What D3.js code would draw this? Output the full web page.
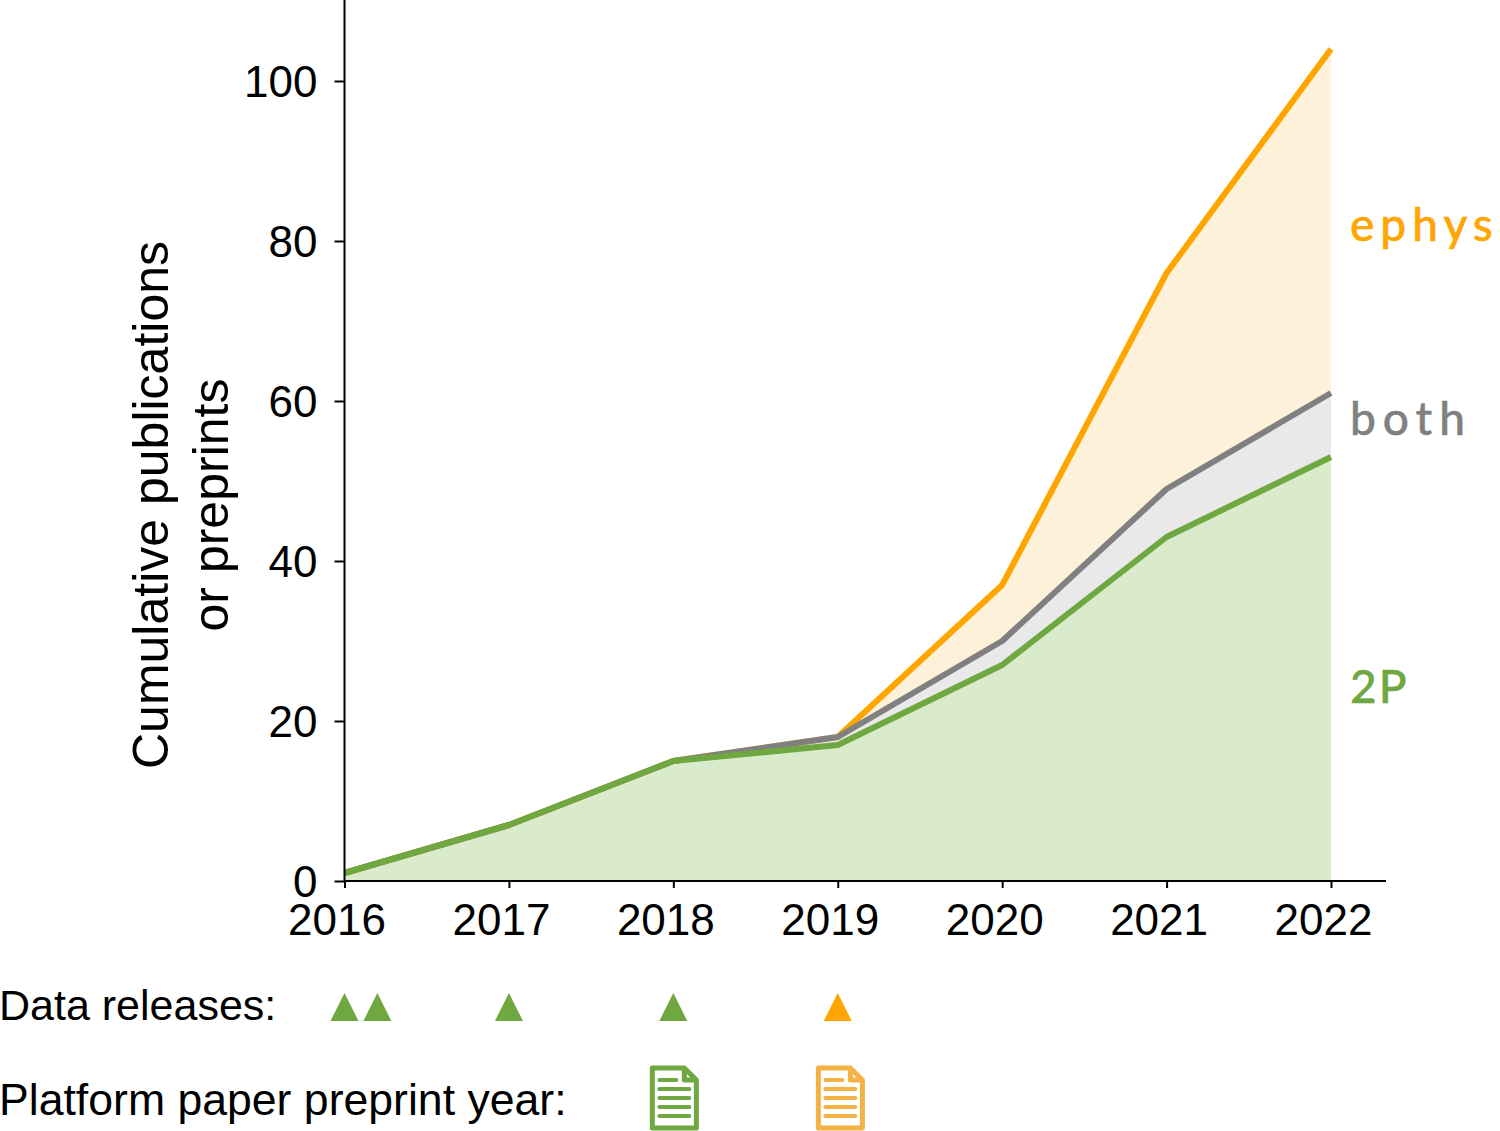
<!DOCTYPE html>
<html>
<head>
<meta charset="utf-8">
<script src="https://cdn.jsdelivr.net/npm/d3@7"></script>
<style>
  html, body { margin: 0; padding: 0; background: #fff; }
  svg { display: block; }
  text { font-family: "Liberation Sans", Arial, sans-serif; fill: #000; }
  .tag { font-family: Lato, "Noto Sans", sans-serif; font-weight: 500; }
</style>
</head>
<body>
<div id="chart"></div>
<script>
// values
const years = [2016, 2017, 2018, 2019, 2020, 2021, 2022];
const twoP = [1, 7, 15, 17, 27, 43, 53];
const both = [1, 7, 15, 18, 30, 49, 61];
const ephys = [1, 7, 15, 18, 37, 76, 104];
const yTicks = [0, 20, 40, 60, 80, 100];
const dataReleases = [
    { year: 2016, kind: '2P' },
    { year: 2016.2, kind: '2P' },
    { year: 2017, kind: '2P' },
    { year: 2018, kind: '2P' },
    { year: 2019, kind: 'ephys' }
];
const preprints = [
    { year: 2018, color: '#6fa840' },
    { year: 2019.01, color: '#f3b244' }
];

const colors = { '2P': '#6fa840', both: '#808080', ephys: '#ffa500' };
const fills = { '2P': '#d9ebcb', both: '#e9e9e9', ephys: '#fef1d9' };

const width = 1500;
const height = 1131;

const svg = d3.select('#chart').append('svg')
    .attr('width', width)
    .attr('height', height);

const x = d3.scaleLinear().domain([2016, 2022]).range([344.5, 1331]);
const y = d3.scaleLinear().domain([0, 100]).range([881, 81]);
const xEnd = 1386;

const series = [
    { name: 'ephys', values: ephys },
    { name: 'both', values: both },
    { name: '2P', values: twoP }
];

const area = d3.area()
    .x((d, i) => x(years[i]))
    .y0(y(0))
    .y1(d => y(d));
const line = d3.line()
    .x((d, i) => x(years[i]))
    .y(d => y(d));

// filled bands, widest first
svg.append('g').selectAll('path')
    .data(series)
    .enter()
    .append('path')
    .attr('d', d => area(d.values))
    .attr('fill', d => fills[d.name]);

svg.append('g').selectAll('path')
    .data(series)
    .enter()
    .append('path')
    .attr('d', d => line(d.values))
    .attr('fill', 'none')
    .attr('stroke', d => colors[d.name])
    .attr('stroke-width', 6)
    .attr('stroke-linejoin', 'round');

// Axes
const xAxis = d3.axisBottom(x)
    .tickValues(years)
    .tickFormat(d3.format('d'))
    .tickSize(7)
    .tickPadding(16);
const xG = svg.append('g')
    .attr('transform', `translate(0,${y(0)})`)
    .call(xAxis);
xG.select('.domain').remove();
xG.append('line')
    .attr('x1', x(2016))
    .attr('x2', xEnd)
    .attr('stroke', '#000')
    .attr('stroke-width', 2);
xG.selectAll('.tick line').attr('stroke', '#000').attr('stroke-width', 2);
xG.selectAll('.tick text')
    .attr('font-size', 44)
    .attr('dx', -8)
    .attr('fill', '#000');

const yAxis = d3.axisLeft(y)
    .tickValues(yTicks)
    .tickSize(10)
    .tickPadding(17);
const yG = svg.append('g')
    .attr('transform', `translate(${x(2016)},0)`)
    .call(yAxis);
yG.select('.domain').remove();
yG.append('line')
    .attr('y1', 0)
    .attr('y2', y(0))
    .attr('stroke', '#000')
    .attr('stroke-width', 2);
yG.selectAll('.tick line').attr('stroke', '#000').attr('stroke-width', 2);
yG.selectAll('.tick text')
    .attr('font-size', 44)
    .attr('dy', '0.36em')
    .attr('fill', '#000');

// Y title
const yTitle = svg.append('text')
    .attr('transform', 'translate(168,505) rotate(-90)')
    .attr('text-anchor', 'middle')
    .attr('font-size', 50);
yTitle.append('tspan').attr('x', 0).attr('y', 0).text('Cumulative publications');
yTitle.append('tspan').attr('x', 0).attr('y', 60).text('or preprints');

// Series tags
const tags = [
    { text: 'ephys', color: colors.ephys, py: 241, spacing: 6 },
    { text: 'both', color: colors.both, py: 435, spacing: 7 },
    { text: '2P', color: colors['2P'], py: 703, spacing: 2 }
];
svg.append('g').selectAll('text')
    .data(tags)
    .enter()
    .append('text')
    .attr('class', 'tag')
    .attr('x', 1350)
    .attr('y', d => d.py)
    .attr('font-size', 46)
    .attr('letter-spacing', d => d.spacing)
    .attr('stroke', d => d.color)
    .attr('stroke-width', 0.5)
    .style('fill', d => d.color)
    .text(d => d.text);

// Bottom rows
svg.append('text').attr('x', -1).attr('y', 1020).attr('font-size', 43).text('Data releases:');
svg.append('text').attr('x', -1).attr('y', 1115).attr('font-size', 44.6).text('Platform paper preprint year:');

svg.append('g').selectAll('path')
    .data(dataReleases)
    .enter()
    .append('path')
    .attr('transform', d => `translate(${x(d.year)},1007)`)
    .attr('d', 'M0,-14L14,14L-14,14Z')
    .attr('fill', d => colors[d.kind] );

// Document icons
const doc = svg.append('g').selectAll('g')
    .data(preprints)
    .enter()
    .append('g')
    .attr('transform', d => `translate(${x(d.year) - 24},1065)`);
doc.append('path')
    .attr('d', 'M3,3H35L47,15V63H3Z')
    .attr('fill', '#fff')
    .attr('stroke', d => d.color)
    .attr('stroke-width', 5)
    .attr('stroke-linejoin', 'round');
doc.append('path')
    .attr('d', 'M35,3V15H47')
    .attr('fill', 'none')
    .attr('stroke', d => d.color)
    .attr('stroke-width', 5)
    .attr('stroke-linejoin', 'round');
const rows = [
    { y: 15, x2: 27 },
    { y: 24, x2: 40 },
    { y: 33, x2: 40 },
    { y: 42, x2: 40 },
    { y: 51, x2: 40 }
];
rows.forEach(r => {
    doc.append('line')
        .attr('x1', 10)
        .attr('x2', r.x2)
        .attr('y1', r.y)
        .attr('y2', r.y)
        .attr('stroke', d => d.color)
        .attr('stroke-width', 4)
        .attr('stroke-linecap', 'round');
});
</script>
</body>
</html>
